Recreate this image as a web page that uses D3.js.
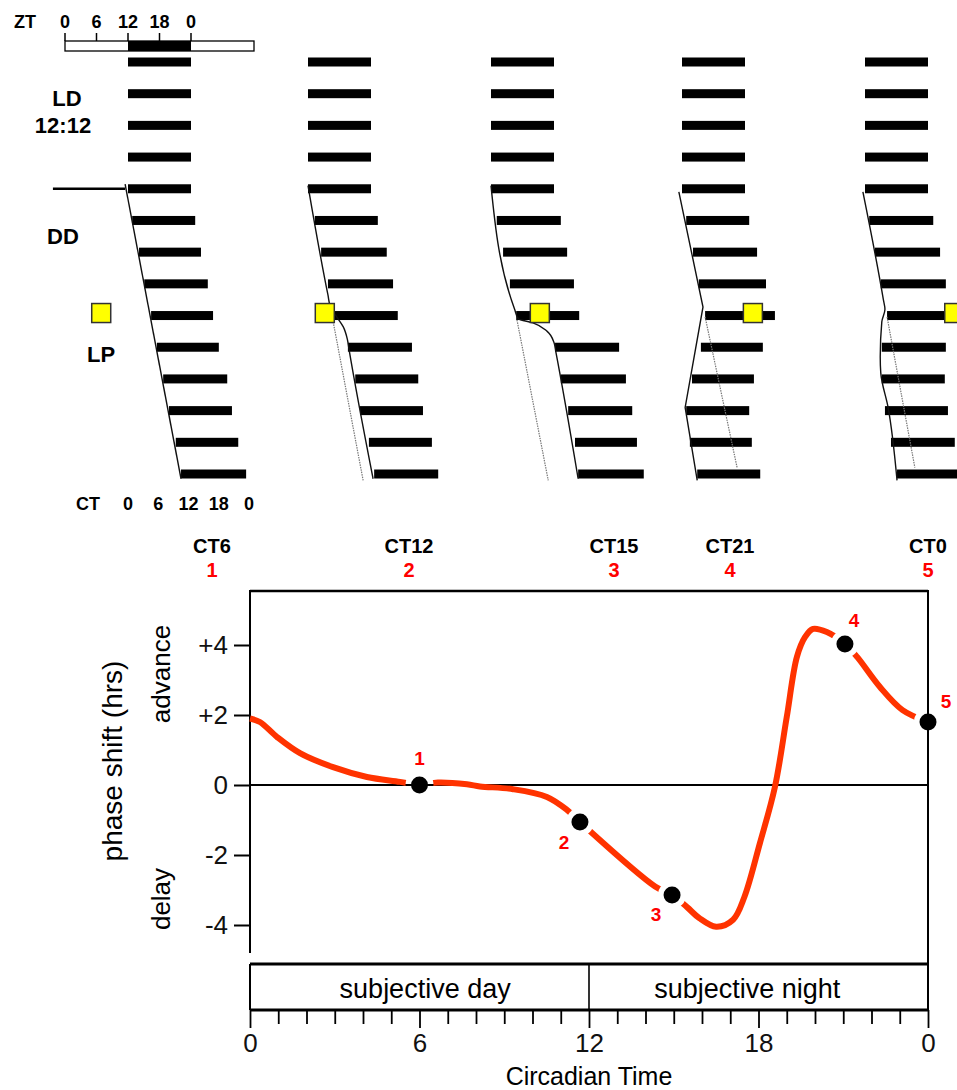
<!DOCTYPE html>
<html>
<head>
<meta charset="utf-8">
<script src="https://cdn.jsdelivr.net/npm/d3@7"></script>
<style>
  html, body { margin: 0; padding: 0; background: #fff; }
  svg { display: block; font-family: "Liberation Sans", Arial, sans-serif; }
</style>
</head>
<body>
<svg id="chart" width="957" height="1090"></svg>
<script>
// ==================== DATA ====================
// pulse times and their numbers
const pulseLabels = ['CT6', 'CT12', 'CT15', 'CT21', 'CT0'];
const pulseNumbers = ['1', '2', '3', '4', '5'];
const pulseRow = 8;
const pulseHours = [6.9, 15.2, 21.3, 25.5, 29.0];

const ztTicks = [0, 6, 12, 18, 24];
const ctTicks = [0, 6, 12, 18, 24];

// actogram activity bands (hours from ZT0), one value per day (14 days, 5 LD + 9 DD)
const onsets1 = [12, 12, 12, 12, 12, 12.8, 14.1, 15.1, 16.4, 17.5, 18.7, 19.8, 21.1, 22.1];
const offsets1 = [24, 24, 24, 24, 24, 24.8, 25.9, 27.2, 28.2, 29.3, 30.9, 31.8, 33.0, 34.5];
const onsets2 = [12, 12, 12, 12, 12, 13.3, 14.5, 15.8, 16.2, 19.6, 21.0, 21.9, 23.6, 24.6];
const offsets2 = [24, 24, 24, 24, 24, 25.3, 27.0, 28.2, 29.1, 31.8, 33.0, 33.9, 35.6, 36.8];
const onsets3 = [12, 12, 12, 12, 12, 13.1, 14.3, 15.6, 16.8, 24.2, 25.3, 26.7, 28.0, 28.6];
const offsets3 = [24, 24, 24, 24, 24, 25.3, 26.5, 27.8, 28.8, 36.4, 37.7, 38.9, 39.8, 41.1];
const onsets4 = [12, 12, 12, 12, 12, 12.8, 14.1, 15.2, 16.4, 15.6, 13.9, 12.8, 13.5, 14.9];
const offsets4 = [24, 24, 24, 24, 24, 24.8, 26.3, 28.0, 29.7, 27.4, 25.7, 24.8, 25.3, 26.9];
const onsets5 = [12, 12, 12, 12, 12, 12.8, 13.9, 15.0, 16.2, 15.2, 15.2, 15.8, 16.95, 18.1];
const offsets5 = [24, 24, 24, 24, 24, 25.0, 26.3, 27.4, 27.2, 27.4, 27.2, 27.8, 29.1, 30.5];

// onset fit lines (hour, day row)
const fitHours1 = [11.45, 22.1];
const fitRows1 = [3.85, 13.15];
const fitHours2 = [12.0, 15.8, 16.3, 17.5, 18.7, 19.5, 19.8, 24.4];
const fitRows2 = [3.9, 7.35, 7.75, 8.05, 8.35, 8.75, 9.05, 13.15];
const fitHours3 = [12.0, 16.5, 17.2, 20.0, 22.7, 24.0, 24.35, 28.6];
const fitRows3 = [3.9, 7.8, 8.1, 8.23, 8.5, 8.85, 9.15, 13.15];
const fitHours4 = [11.4, 16.0, 12.6, 14.9];
const fitRows4 = [4.1, 7.73, 10.9, 13.2];
const fitHours5 = [11.6, 15.5, 15.8, 15.2, 14.9, 15.0, 16.4, 18.1];
const fitRows5 = [4.1, 7.5, 7.8, 8.2, 9.3, 9.8, 10.9, 13.2];

// projected (unshifted) onsets after the pulse
const projHours = [null, [16.8, 22.5], [16.95, 22.9], [16.4, 22.5], [16.2, 21.5]];
const projRows = [null, [8.2, 13.2], [8.14, 13.2], [8.04, 12.8], [8.04, 12.8]];

// phase response curve
const prcCT = [0, 0.35, 0.96, 1.77, 2.94, 4.14, 5.31, 6.0, 6.65, 7.68, 8.14, 9.31, 10.51, 11.22, 11.68,
  14.34, 14.94, 15.47, 15.9, 16.5, 17.1, 17.5, 18.05, 18.58, 19.0, 19.36, 19.65, 19.93, 20.42,
  21.06, 21.49, 22.3, 23.1, 24];
const prcShift = [1.9, 1.8, 1.37, 0.91, 0.51, 0.23, 0.09, 0.0, 0.07, 0.02, -0.04, -0.12, -0.34, -0.71, -1.06,
  -2.9, -3.14, -3.49, -3.8, -4.05, -3.85, -3.2, -1.66, -0.06, 1.94, 3.66, 4.23, 4.46, 4.37,
  4.03, 3.66, 2.8, 2.14, 1.8];
const pointCT = [6, 11.68, 14.94, 21.06, 24];
const pointShift = [0, -1.06, -3.14, 4.03, 1.8];
const yTicks = [-4, -2, 0, 2, 4];

// ==================== LAYOUT ====================
const panelLeft = [65, 245, 428, 619, 802];
const hourPx = 5.25;
const headerX = [212, 409, 614, 730, 928];
const numberOffset = [[0, -20], [-16, 27], [-16, 26], [9, -17], [18, -14]];

const svg = d3.select('#chart');
const rowY = d3.scaleLinear().domain([0, 13]).range([62, 474]);
const onsetSets = [onsets1, onsets2, onsets3, onsets4, onsets5];
const offsetSets = [offsets1, offsets2, offsets3, offsets4, offsets5];
const fitHourSets = [fitHours1, fitHours2, fitHours3, fitHours4, fitHours5];
const fitRowSets = [fitRows1, fitRows2, fitRows3, fitRows4, fitRows5];
const fitCurves = [d3.curveLinear, d3.curveMonotoneY, d3.curveMonotoneY, d3.curveLinear, d3.curveMonotoneY];

const bold = (sel, size) => sel.attr('font-weight', 'bold').attr('font-size', size + 'px');

// ==================== ACTOGRAMS ====================
const panelScales = panelLeft.map((left) => d3.scaleLinear().domain([0, 36]).range([left, left + 36 * hourPx]));

panelScales.forEach((x, i) => {
  const g = svg.append('g').attr('class', 'actogram');
  const on = onsetSets[i];
  const off = offsetSets[i];

  g.selectAll('rect.bar')
    .data(d3.range(on.length))
    .join('rect')
    .attr('class', 'bar')
    .attr('x', (r) => x(on[r]))
    .attr('y', (r) => rowY(r) - 4.5)
    .attr('width', (r) => x(off[r]) - x(on[r]))
    .attr('height', 9)
    .attr('fill', '#000');

  if (projHours[i]) {
    g.append('path')
      .datum(d3.zip(projHours[i], projRows[i]))
      .attr('d', d3.line().x((d) => x(d[0])).y((d) => rowY(d[1])))
      .attr('fill', 'none')
      .attr('stroke', '#777')
      .attr('stroke-width', 1.2)
      .attr('stroke-dasharray', '1.5,1');
  }

  g.append('path')
    .datum(d3.zip(fitHourSets[i], fitRowSets[i]))
    .attr('d', d3.line().x((d) => x(d[0])).y((d) => rowY(d[1])).curve(fitCurves[i]))
    .attr('fill', 'none')
    .attr('stroke', '#111')
    .attr('stroke-width', 1.4);

  g.append('rect')
    .attr('x', x(pulseHours[i]) - 9.5)
    .attr('y', rowY(pulseRow) - 12)
    .attr('width', 19)
    .attr('height', 19)
    .attr('fill', '#ffff00')
    .attr('stroke', '#333')
    .attr('stroke-width', 1.5);
});

// panel 1 extras: ZT bar, LD->DD marker, labels
const x1 = panelScales[0];
const zt = svg.append('g');
zt.append('rect').attr('x', x1(0)).attr('y', 41).attr('width', x1(36) - x1(0)).attr('height', 10)
  .attr('fill', '#fff').attr('stroke', '#000').attr('stroke-width', 1.3);
zt.append('rect').attr('x', x1(12)).attr('y', 41).attr('width', x1(24) - x1(12)).attr('height', 10).attr('fill', '#000');
zt.selectAll('line').data(ztTicks).join('line')
  .attr('x1', (d) => x1(d)).attr('x2', (d) => x1(d)).attr('y1', 33).attr('y2', 41)
  .attr('stroke', '#000').attr('stroke-width', 1.5);
zt.selectAll('text.zt').data(ztTicks).join('text').attr('class', 'zt')
  .attr('x', (d) => x1(d)).attr('y', 28).attr('text-anchor', 'middle')
  .call(bold, 18).text((d) => (d === 24 ? 0 : d));
zt.append('text').attr('x', 25).attr('y', 28).attr('text-anchor', 'middle').call(bold, 18).text('ZT');

svg.append('line').attr('x1', x1(-2.3)).attr('x2', x1(11.45)).attr('y1', rowY(4)).attr('y2', rowY(4))
  .attr('stroke', '#000').attr('stroke-width', 2.5);

svg.append('text').attr('x', 67).attr('y', 106).attr('text-anchor', 'middle').call(bold, 22).text('LD');
svg.append('text').attr('x', 63).attr('y', 133).attr('text-anchor', 'middle').call(bold, 22).text('12:12');
svg.append('text').attr('x', 63).attr('y', 244).attr('text-anchor', 'middle').call(bold, 22).text('DD');
svg.append('text').attr('x', 101).attr('y', 362).attr('text-anchor', 'middle').call(bold, 22).text('LP');

const ctLabel = d3.scaleLinear().domain([0, 24]).range([128, 249]);
svg.append('text').attr('x', 88).attr('y', 510).attr('text-anchor', 'middle').call(bold, 18).text('CT');
svg.selectAll('text.ct').data(ctTicks).join('text').attr('class', 'ct')
  .attr('x', (d) => ctLabel(d)).attr('y', 510).attr('text-anchor', 'middle')
  .call(bold, 18).text((d) => (d === 24 ? 0 : d));

// pulse headers
pulseLabels.forEach((lab, i) => {
  svg.append('text').attr('x', headerX[i]).attr('y', 553).attr('text-anchor', 'middle').call(bold, 20).text(lab);
  svg.append('text').attr('x', headerX[i]).attr('y', 577).attr('text-anchor', 'middle').call(bold, 20)
    .attr('fill', '#ff0000').text(pulseNumbers[i]);
});

// ==================== PHASE RESPONSE CURVE ====================
const xCT = d3.scaleLinear().domain([0, 24]).range([250, 928]);
const yShift = d3.scaleLinear().domain([-4, 4]).range([925, 645]);

const defs = svg.append('defs');
const mask = defs.append('mask').attr('id', 'dot-gap').attr('maskUnits', 'userSpaceOnUse')
  .attr('x', 0).attr('y', 0).attr('width', 957).attr('height', 1090);
mask.append('rect').attr('width', 957).attr('height', 1090).attr('fill', '#fff');
mask.selectAll('circle').data(pointCT).join('circle')
  .attr('cx', (d) => xCT(d)).attr('cy', (d, i) => yShift(pointShift[i])).attr('r', 14).attr('fill', '#000');

// frame
const frame = svg.append('g').attr('stroke', '#000').attr('fill', 'none');
frame.append('line').attr('x1', 250).attr('x2', 928).attr('y1', 591).attr('y2', 591).attr('stroke-width', 2.5);
frame.append('line').attr('x1', 250).attr('x2', 250).attr('y1', 590).attr('y2', 953).attr('stroke-width', 2);
frame.append('line').attr('x1', 928).attr('x2', 928).attr('y1', 590).attr('y2', 1010).attr('stroke-width', 2);
frame.append('line').attr('x1', 250).attr('x2', 928).attr('y1', yShift(0)).attr('y2', yShift(0)).attr('stroke-width', 2);

// day / night box
frame.append('line').attr('x1', 250).attr('x2', 928).attr('y1', 964).attr('y2', 964).attr('stroke-width', 3);
frame.append('line').attr('x1', 250).attr('x2', 928).attr('y1', 1010).attr('y2', 1010).attr('stroke-width', 3);
frame.append('line').attr('x1', 250).attr('x2', 250).attr('y1', 964).attr('y2', 1010).attr('stroke-width', 2);
frame.append('line').attr('x1', xCT(12)).attr('x2', xCT(12)).attr('y1', 964).attr('y2', 1010).attr('stroke-width', 1.6);
svg.append('text').attr('x', xCT(6.2)).attr('y', 998).attr('text-anchor', 'middle').attr('font-size', '27px').text('subjective day');
svg.append('text').attr('x', xCT(17.6)).attr('y', 998).attr('text-anchor', 'middle').attr('font-size', '27px').text('subjective night');

// x axis
const xAxis = svg.append('g')
  .attr('transform', 'translate(0,1010)')
  .call(d3.axisBottom(xCT).tickValues(d3.range(0, 25)).tickSize(14)
    .tickFormat((d) => (d % 6 === 0 ? (d === 24 ? '0' : d) : '')));
xAxis.select('.domain').remove();
xAxis.selectAll('.tick line').attr('stroke-width', 1.8)
  .attr('y2', (d) => (d % 6 === 0 ? 18 : 14));
xAxis.selectAll('.tick text').attr('y', 24).attr('font-size', '26px')
  .attr('font-family', '"Liberation Sans", Arial, sans-serif').attr('fill', '#111');
svg.append('text').attr('x', xCT(12)).attr('y', 1085).attr('text-anchor', 'middle').attr('font-size', '25px').text('Circadian Time');

// y axis
const yAxis = svg.append('g')
  .attr('transform', 'translate(250,0)')
  .call(d3.axisLeft(yShift).tickValues(yTicks).tickSize(16).tickPadding(6)
    .tickFormat((d) => (d > 0 ? '+' + d : String(d))));
yAxis.select('.domain').remove();
yAxis.selectAll('.tick line').attr('stroke-width', 2);
yAxis.selectAll('.tick text').attr('font-size', '26px')
  .attr('font-family', '"Liberation Sans", Arial, sans-serif').attr('fill', '#111');

svg.append('text').attr('transform', 'translate(122,761) rotate(-90)').attr('text-anchor', 'middle')
  .attr('font-size', '28px').text('phase shift (hrs)');
svg.append('text').attr('transform', 'translate(170,674) rotate(-90)').attr('text-anchor', 'middle')
  .attr('font-size', '26px').text('advance');
svg.append('text').attr('transform', 'translate(170,899) rotate(-90)').attr('text-anchor', 'middle')
  .attr('font-size', '26px').text('delay');

// curve
svg.append('path')
  .datum(d3.zip(prcCT, prcShift))
  .attr('d', d3.line().x((d) => xCT(d[0])).y((d) => yShift(d[1])).curve(d3.curveCatmullRom.alpha(0.5)))
  .attr('fill', 'none')
  .attr('stroke', '#ff3300')
  .attr('stroke-width', 6)
  .attr('mask', 'url(#dot-gap)');

svg.selectAll('circle.pt').data(pointCT).join('circle').attr('class', 'pt')
  .attr('cx', (d) => xCT(d)).attr('cy', (d, i) => yShift(pointShift[i])).attr('r', 8.5).attr('fill', '#000');

svg.selectAll('text.num').data(pointCT).join('text').attr('class', 'num')
  .attr('x', (d, i) => xCT(d) + numberOffset[i][0])
  .attr('y', (d, i) => yShift(pointShift[i]) + numberOffset[i][1])
  .attr('text-anchor', 'middle').call(bold, 19).attr('fill', '#ff0000')
  .text((d, i) => pulseNumbers[i]);
</script>
</body>
</html>
